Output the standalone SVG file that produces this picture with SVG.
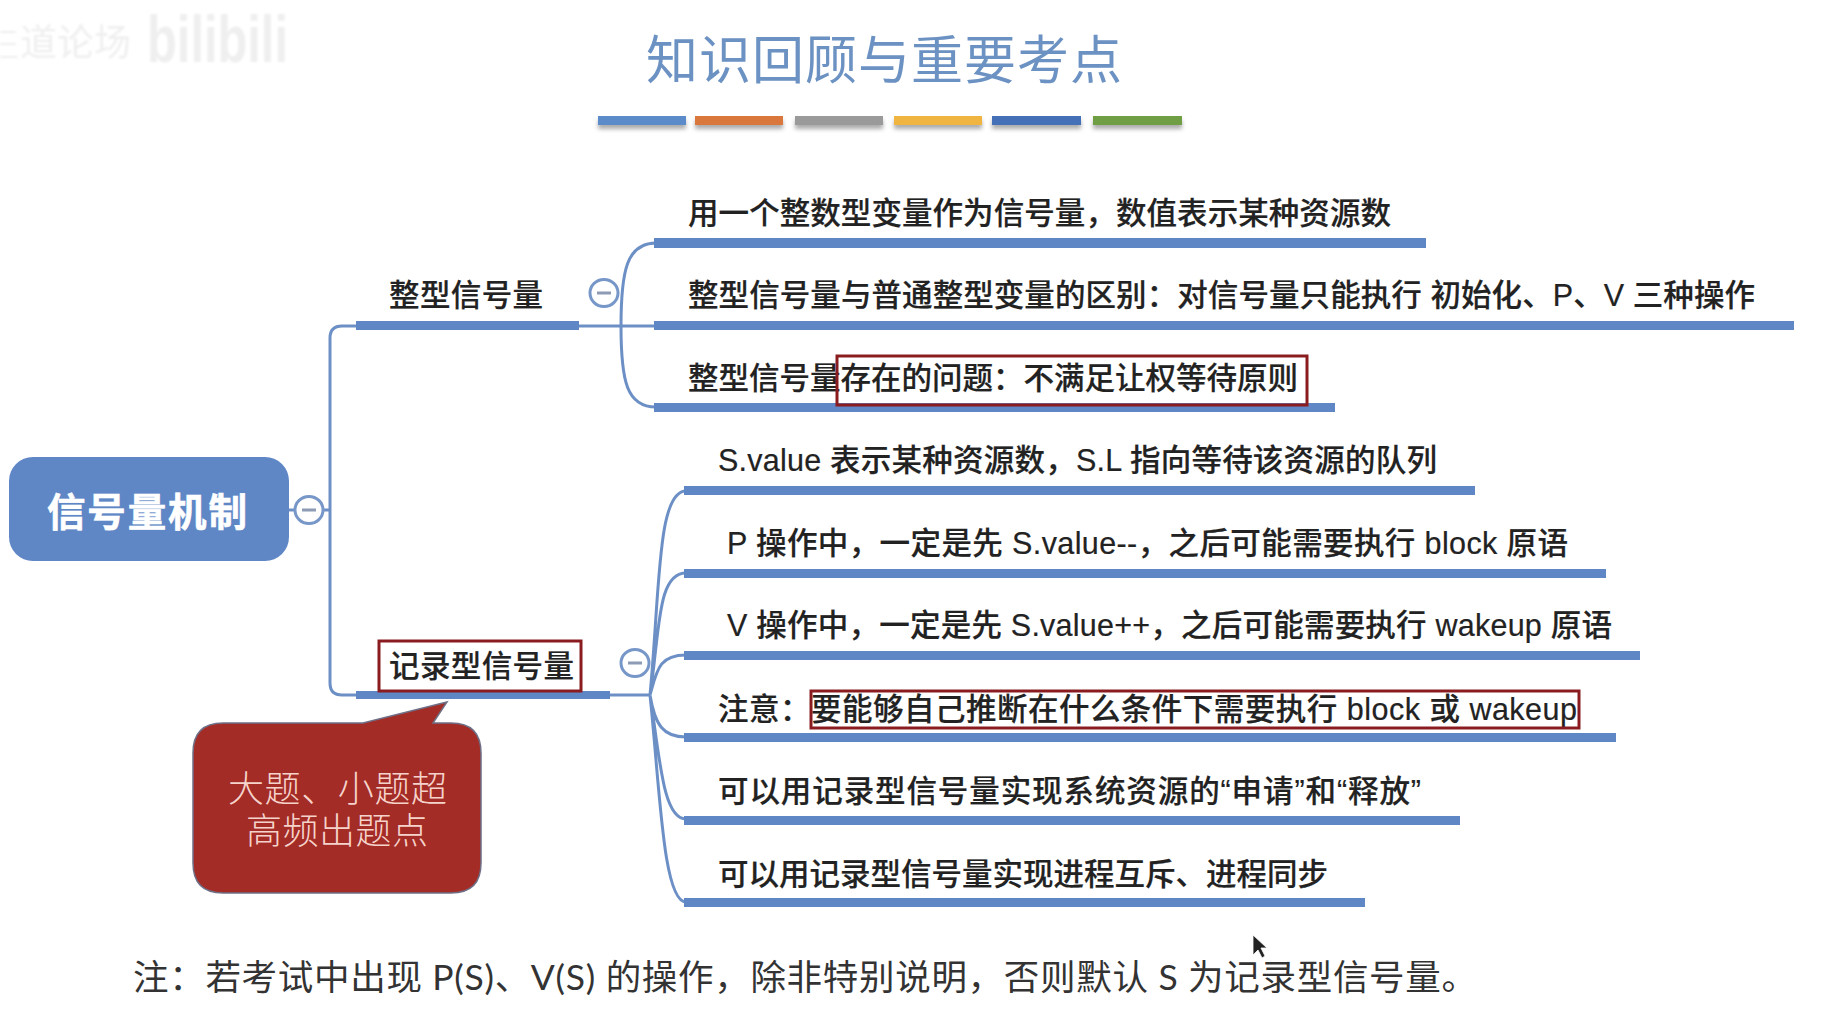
<svg xmlns="http://www.w3.org/2000/svg" width="1822" height="1015" viewBox="0 0 1822 1015">
<defs>
<filter id="sh" x="-10%" y="-50%" width="120%" height="250%"><feGaussianBlur stdDeviation="2"/></filter>
<filter id="wm" x="-10%" y="-20%" width="120%" height="140%"><feGaussianBlur stdDeviation="1.2"/></filter>
</defs>
<style>
text{font-family:"Liberation Sans","Noto Sans CJK SC",sans-serif}
.t{font-size:30.5px;font-weight:500;fill:#222;stroke:#222;stroke-width:.2}
.u{fill:#5f87c6}
.l{fill:none;stroke:#6c90c6;stroke-width:3}
.r{fill:none;stroke:#8a1c20;stroke-width:3}
.c{fill:#fff;stroke:#7797c8;stroke-width:3}
.m{stroke:#8d9bb4;stroke-width:3}
.n{font-size:35.5px;fill:#333;font-family:"Lato","Noto Sans CJK SC",sans-serif}
.k{font-size:36px;fill:#f5d3cb;font-weight:300}
</style>
<rect width="1822" height="1015" fill="#fff"/>
<g id="watermark" filter="url(#wm)" fill="#efefef">
<path d="M0 32H16M0 44H16M0 57H18" stroke="#efefef" stroke-width="2" fill="none"/>
<text x="20" y="56" font-size="37">道论场</text>
<text x="147" y="62" font-size="66" font-weight="700" textLength="141" lengthAdjust="spacingAndGlyphs">bilibili</text>
</g>
<g id="title">
<text x="884" y="79" text-anchor="middle" font-size="52" fill="#6b92c2" textLength="476">知识回顾与重要考点</text>
<g filter="url(#sh)" fill="#888" opacity=".7" transform="translate(0,4)">
<rect x="598" y="116" width="88" height="9"/><rect x="695" y="116" width="88" height="9"/><rect x="795" y="116" width="88" height="9"/><rect x="894" y="116" width="88" height="9"/><rect x="992" y="116" width="89" height="9"/><rect x="1093" y="116" width="89" height="9"/>
</g>
<rect x="598" y="116" width="88" height="9" fill="#5b8bc9"/>
<rect x="695" y="116" width="88" height="9" fill="#d9773c"/>
<rect x="795" y="116" width="88" height="9" fill="#9a9a9a"/>
<rect x="894" y="116" width="88" height="9" fill="#f0b440"/>
<rect x="992" y="116" width="89" height="9" fill="#4470b8"/>
<rect x="1093" y="116" width="89" height="9" fill="#6f9e45"/>
</g>
<g id="connectors">
<path class="l" d="M356 326H342Q330 326 330 338V683Q330 695 342 695H356"/>
<path class="l" d="M289 510H295M323 510H330"/>
<path class="l" d="M579 326H654"/>
<path class="l" d="M621 326C621 270 627 243 656 243M621 326C621 382 627 407 656 407"/>
<path class="l" d="M610 695H650"/>
<path class="l" d="M650 695C660 590 657 491 686 491M650 695C660 630 657 573 686 573M650 695C657 670 659 655 686 655M650 695C655 725 663 737 686 737M650 695C660 760 663 819 686 819M650 695C660 790 663 902 686 902"/>
</g>
<g id="root">
<rect x="9" y="457" width="280" height="104" rx="24" fill="#5f87c6"/>
<text x="47" y="526" font-size="38.5" font-weight="700" fill="#fff" stroke="#fff" stroke-width=".6" textLength="200">信号量机制</text>
<ellipse class="c" cx="309" cy="510" rx="14" ry="13.5"/><path class="m" d="M302 510H316"/>
</g>
<g id="branch-int">
<rect class="u" x="356" y="321" width="223" height="9"/>
<text class="t" x="389" y="306" textLength="154">整型信号量</text>
<ellipse class="c" cx="604" cy="293" rx="14" ry="13.5"/><path class="m" d="M597 293H611"/>
</g>
<g id="int-1"><rect class="u" x="654" y="238" width="772" height="10"/><text class="t" x="688" y="224" textLength="703">用一个整数型变量作为信号量，数值表示某种资源数</text></g>
<g id="int-2"><rect class="u" x="654" y="321" width="1140" height="9"/><text class="t" x="688" y="306" textLength="1067">整型信号量与普通整型变量的区别：对信号量只能执行 初始化、P、V 三种操作</text></g>
<g id="int-3"><rect class="u" x="654" y="403" width="681" height="9"/><text class="t" x="688" y="389" textLength="610">整型信号量存在的问题：不满足让权等待原则</text><rect class="r" x="837" y="356" width="470" height="49"/></g>
<g id="branch-rec">
<rect class="u" x="356" y="691" width="254" height="8"/>
<rect x="379" y="641" width="202" height="50" fill="#fff" stroke="#8a1c20" stroke-width="3"/>
<text class="t" x="389" y="677" textLength="185">记录型信号量</text>
<ellipse class="c" cx="635" cy="663" rx="14" ry="13.5"/><path class="m" d="M628 663H642"/>
</g>
<g id="rec-1"><rect class="u" x="684" y="486" width="791" height="9"/><text class="t" x="718" y="471" textLength="719">S.value 表示某种资源数，S.L 指向等待该资源的队列</text></g>
<g id="rec-2"><rect class="u" x="684" y="569" width="922" height="9"/><text class="t" x="727" y="554" textLength="841">P 操作中，一定是先 S.value--，之后可能需要执行 block 原语</text></g>
<g id="rec-3"><rect class="u" x="684" y="651" width="956" height="9"/><text class="t" x="727" y="636" textLength="885">V 操作中，一定是先 S.value++，之后可能需要执行 wakeup 原语</text></g>
<g id="rec-4"><rect class="u" x="684" y="733" width="932" height="9"/><text class="t" x="718" y="720" textLength="859">注意：要能够自己推断在什么条件下需要执行 block 或 wakeup</text><rect class="r" x="811" y="691" width="768" height="37"/></g>
<g id="rec-5"><rect class="u" x="684" y="816" width="776" height="9"/><text class="t" x="718" y="802" textLength="703">可以用记录型信号量实现系统资源的“申请”和“释放”</text></g>
<g id="rec-6"><rect class="u" x="684" y="898" width="681" height="9"/><text class="t" x="718" y="885" textLength="610">可以用记录型信号量实现进程互斥、进程同步</text></g>
<g id="callout">
<path d="M223 723H363L447 702L433 723H451Q481 723 481 753V863Q481 893 451 893H223Q193 893 193 863V753Q193 723 223 723Z" fill="#a32c26" stroke="#6f6f86" stroke-width="1.5"/>
<text class="k" x="228" y="802" textLength="219">大题、小题超</text>
<text class="k" x="246" y="844" textLength="182">高频出题点</text>
</g>
<g id="note">
<text class="n" x="133" y="990" textLength="1344">注：若考试中出现 P(S)、V(S) 的操作，除非特别说明，否则默认 S 为记录型信号量。</text>
</g>
<path id="cursor" d="M1253 935V955L1258 950L1262 958L1265 956L1261 948L1267 948Z" fill="#222" stroke="#fff" stroke-width=".8"/>
</svg>
